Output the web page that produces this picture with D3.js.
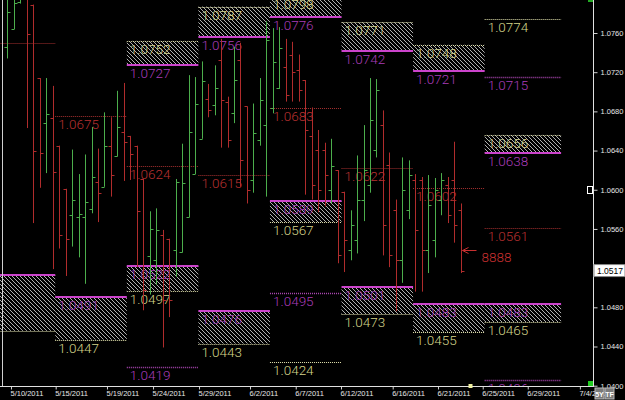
<!DOCTYPE html>
<html>
<head>
<meta charset="utf-8">
<script src="https://cdn.jsdelivr.net/npm/d3@7"></script>
<style>
  body { margin: 0; background: #000; }
  svg { display: block; background: #000; }
  .lvl { font-family: Roboto, "DejaVu Sans", sans-serif; font-size: 13.5px; font-weight: 300; }
  .axis text { font-family: "Liberation Sans", Arial, sans-serif; font-size: 7.5px; fill: #e6e6e6; }
</style>
</head>
<body>
<svg width="625" height="400"></svg>
<script>
// bars, one per session slot (index 0 = first visible bar)
const opens  = [1.0746,1.0764,1.0792,1.0796,1.0789,1.0714,1.0668,1.0673,1.0645,1.0601,
                1.0574,1.0572,1.0572,1.0580,1.0608,1.0603,1.0645,1.0634,1.0659,1.0655,
                1.0645,1.0611,1.0532,1.0528,1.0554,1.0550,1.0539,1.0536,1.0572,1.0616,
                1.0652,1.0693,1.0687,1.0732,1.0690,1.0678,1.0732,1.0685,1.0610,1.0651,
                1.0666,1.0683,1.0704,1.0725,1.0738,1.0722,1.0712,1.0655,1.0641,1.0641,
                1.0600,1.0620,1.0598,1.0539,1.0549,1.0590,1.0605,1.0641,1.0666,1.0625,
                1.0579,1.0528,1.0579,1.0610,1.0610,1.0539,1.0549,1.0590,1.0605,1.0610,
                1.0579];
const highs  = [1.0799,1.0802,1.0804,1.0797,1.0789,1.0714,1.0714,1.0706,1.0645,1.0601,
                1.0641,1.0616,1.0636,1.0664,1.0642,1.0679,1.0674,1.0701,1.0709,1.0655,
                1.0645,1.0611,1.0578,1.0581,1.0559,1.0550,1.0611,1.0647,1.0717,1.0715,
                1.0731,1.0708,1.0727,1.0754,1.0695,1.0746,1.0750,1.0685,1.0688,1.0714,
                1.0772,1.0765,1.0766,1.0754,1.0751,1.0738,1.0712,1.0684,1.0661,1.0648,
                1.0652,1.0620,1.0598,1.0579,1.0635,1.0666,1.0714,1.0713,1.0681,1.0638,
                1.0590,1.0633,1.0630,1.0616,1.0613,1.0615,1.0612,1.0617,1.0613,1.0649,
                1.0586];
const lows   = [1.0734,1.0764,1.0790,1.0663,1.0566,1.0602,1.0617,1.0519,1.0540,1.0512,
                1.0542,1.0531,1.0504,1.0576,1.0567,1.0603,1.0593,1.0634,1.0609,1.0610,
                1.0521,1.0477,1.0493,1.0503,1.0439,1.0470,1.0511,1.0536,1.0572,1.0616,
                1.0652,1.0674,1.0676,1.0643,1.0643,1.0668,1.0603,1.0586,1.0597,1.0645,
                1.0593,1.0678,1.0703,1.0690,1.0690,1.0690,1.0595,1.0590,1.0577,1.0583,
                1.0586,1.0525,1.0516,1.0528,1.0535,1.0568,1.0597,1.0633,1.0533,1.0521,
                1.0476,1.0505,1.0570,1.0496,1.0496,1.0515,1.0531,1.0574,1.0566,1.0546,
                1.0515];
const closes = [1.0781,1.0791,1.0800,1.0759,1.0640,1.0638,1.0677,1.0618,1.0554,1.0550,
                1.0590,1.0575,1.0587,1.0613,1.0597,1.0645,1.0615,1.0664,1.0649,1.0636,
                1.0578,1.0498,1.0560,1.0559,1.0487,1.0487,1.0608,1.0607,1.0659,1.0688,
                1.0711,1.0681,1.0704,1.0692,1.0651,1.0712,1.0630,1.0600,1.0658,1.0692,
                1.0753,1.0730,1.0745,1.0697,1.0720,1.0702,1.0661,1.0605,1.0600,1.0615,
                1.0624,1.0533,1.0549,1.0564,1.0590,1.0620,1.0671,1.0702,1.0564,1.0533,
                1.0528,1.0600,1.0615,1.0559,1.0539,1.0584,1.0600,1.0610,1.0574,1.0564,
                1.0517];

// time axis (positions in bar slots)
const dateLabels = ["5/10/2011","5/15/2011","5/19/2011","5/24/2011","5/29/2011","6/2/2011","6/7/2011",
                    "6/12/2011","6/16/2011","6/21/2011","6/25/2011","6/29/2011","7/4/2011"];
const datePos = [0.57, 7.47, 15.39, 22.5, 29.6, 37.47, 44.53, 51.52, 59.5, 66.5, 73.4, 80.35, 88.4];
const priceTicks = [1.0400,1.0440,1.0480,1.0520,1.0560,1.0600,1.0640,1.0680,1.0720,1.0760];

// weekly levels
const weekStart   = [-10, 7.4, 18.45, 29.5, 40.55, 51.6, 62.65, 73.7];
const weekEnd     = [7.4, 18.45, 29.5, 40.55, 51.6, 62.65, 73.7, 85.5];
const pivots      = [1.0750, 1.0675, 1.0624, 1.0615, 1.0683, 1.0622, 1.0602, 1.0561];
const upperTop    = [null, null, 1.0752, 1.0787, 1.0798, 1.0771, 1.0748, 1.0656];
const upperBottom = [null, null, 1.0727, 1.0756, 1.0776, 1.0742, 1.0721, 1.0638];
const lowerTop    = [1.0513, 1.0491, 1.0522, 1.0476, 1.0589, 1.0501, 1.0483, 1.0483];
const lowerBottom = [1.0456, 1.0447, 1.0497, 1.0443, 1.0567, 1.0473, 1.0455, 1.0465];
const extraMagenta = [[2, 1.0419], [4, 1.0495], [7, 1.0715], [7, 1.0406]];
const extraYellow  = [[4, 1.0424], [7, 1.0774]];
const lastPrice = 1.0517;
const arrowPrice = 1.0539;

const GREEN = "#4cae4c", RED = "#b02c2c";
const colors = {
  mag:    {line: "#cc44cc", text: "#a83cb8", dash: null, w: 2},
  magDot: {line: "#b048b8", text: "#a83cb8", dash: "1,1", w: 1.5},
  yel:    {line: "#e6e6b0", text: "#d4d48a", dash: "1,1", w: 1},
  red:    {line: "#a83030", text: "#b83030", dash: "1,1", w: 1}
};

const svg = d3.select('svg');
const W = 593, H = 386;

const x = d3.scaleLinear().domain([0, 70]).range([7.3, 460.7]);
const y = d3.scaleLinear().domain([1.0400, 1.0760]).range([385.7, 33]);
const crisp = v => Math.round(v) + 0.5;

const defs = svg.append('defs');
defs.append('clipPath').attr('id', 'plot')
  .append('rect').attr('width', W).attr('height', H);
defs.append('pattern').attr('id', 'hatch')
  .attr('patternUnits', 'userSpaceOnUse')
  .attr('width', 4).attr('height', 4)
  .append('path')
  .attr('d', 'M-1,-1L5,5M-1,3L1,5M3,-1L5,1')
  .attr('stroke', '#b0b0b0').attr('stroke-width', 1);

const plot = svg.append('g').attr('clip-path', 'url(#plot)');

// build week table
const weeks = weekStart.map((s, i) => ({
  x0: x(s), x1: x(weekEnd[i]),
  pivot: pivots[i],
  ut: upperTop[i], ub: upperBottom[i],
  lt: lowerTop[i], lb: lowerBottom[i]
}));

// hatched boxes
const boxes = [];
weeks.forEach(w => {
  if (w.ut != null) boxes.push({x0: w.x0, x1: w.x1, top: w.ut, bot: w.ub});
  boxes.push({x0: w.x0, x1: w.x1, top: w.lt, bot: w.lb});
});
plot.append('g').selectAll('rect').data(boxes).join('rect')
  .attr('x', d => d.x0).attr('width', d => d.x1 - d.x0)
  .attr('y', d => y(d.top)).attr('height', d => y(d.bot) - y(d.top))
  .attr('fill', 'url(#hatch)');

// level lines
const levels = [];
weeks.forEach((w, i) => {
  levels.push({x0: w.x0, x1: w.x1, v: w.pivot, kind: 'red', label: i > 0});
  if (w.ut != null) {
    levels.push({x0: w.x0, x1: w.x1, v: w.ut, kind: 'yel', label: i > 0});
    levels.push({x0: w.x0, x1: w.x1, v: w.ub, kind: 'mag', label: i > 0});
  }
  levels.push({x0: w.x0, x1: w.x1, v: w.lt, kind: 'mag', label: i > 0});
  levels.push({x0: w.x0, x1: w.x1, v: w.lb, kind: 'yel', label: i > 0});
});
extraMagenta.forEach(([k, v]) => levels.push({x0: weeks[k].x0, x1: weeks[k].x1, v, kind: 'magDot', label: true}));
extraYellow.forEach(([k, v]) => levels.push({x0: weeks[k].x0, x1: weeks[k].x1, v, kind: 'yel', label: true}));

plot.append('g').selectAll('line').data(levels).join('line')
  .attr('x1', d => d.x0).attr('x2', d => d.x1)
  .attr('y1', d => colors[d.kind].w === 2 ? Math.round(y(d.v)) : crisp(y(d.v)))
  .attr('y2', d => colors[d.kind].w === 2 ? Math.round(y(d.v)) : crisp(y(d.v)))
  .attr('stroke', d => colors[d.kind].line)
  .attr('stroke-width', d => colors[d.kind].w)
  .attr('stroke-dasharray', d => colors[d.kind].dash);

plot.append('g').attr('class', 'lvl').selectAll('text').data(levels.filter(d => d.label)).join('text')
  .attr('x', d => d.x0 + 3)
  .attr('y', d => y(d.v) + 13)
  .attr('fill', d => colors[d.kind].text)
  .text(d => d.v.toFixed(4));

// OHLC bars
const bars = opens.map((o, i) => ({i, o, h: highs[i], l: lows[i], c: closes[i]}));
const bg = plot.append('g').selectAll('g').data(bars).join('g')
  .attr('stroke', d => d.c >= d.o ? GREEN : RED)
  .attr('stroke-width', 1);
bg.append('line')
  .attr('x1', d => crisp(x(d.i))).attr('x2', d => crisp(x(d.i)))
  .attr('y1', d => y(d.h)).attr('y2', d => y(d.l));
bg.append('line')
  .attr('x1', d => crisp(x(d.i)) - 3).attr('x2', d => crisp(x(d.i)))
  .attr('y1', d => crisp(y(d.o))).attr('y2', d => crisp(y(d.o)));
bg.append('line')
  .attr('x1', d => crisp(x(d.i))).attr('x2', d => crisp(x(d.i)) + 3)
  .attr('y1', d => crisp(y(d.c))).attr('y2', d => crisp(y(d.c)));

// arrow + marker text
const ax = crisp(x(70)) + 1, ay = crisp(y(arrowPrice));
plot.append('path')
  .attr('d', `M${ax},${ay}H${ax + 14}M${ax},${ay}L${ax + 6},${ay - 3}M${ax},${ay}L${ax + 6},${ay + 3}`)
  .attr('stroke', '#c83030').attr('fill', 'none');
plot.append('text').attr('class', 'lvl')
  .attr('x', ax + 19).attr('y', ay + 11.5)
  .attr('fill', '#c83030').text('8888');

// frame lines
svg.append('line').attr('x1', 2.5).attr('x2', 2.5).attr('y1', 0).attr('y2', H)
  .attr('stroke', '#d0d0d0');

// right price axis
const yAxis = d3.axisRight(y).tickValues(priceTicks).tickFormat(d3.format('.4f'))
  .tickSize(4).tickSizeOuter(0);
const ya = svg.append('g').attr('class', 'axis').attr('transform', `translate(${W + 0.5},0)`).call(yAxis);
ya.select('.domain').remove();
ya.selectAll('.tick line').attr('stroke', '#d0d0d0');
svg.append('line').attr('x1', W + 0.5).attr('x2', W + 0.5).attr('y1', 0).attr('y2', H)
  .attr('stroke', '#e0e0e0');

// bottom time axis
const xAxis = d3.axisBottom(x).tickValues(datePos).tickFormat((d, i) => dateLabels[i])
  .tickSize(3).tickSizeOuter(0);
const xa = svg.append('g').attr('class', 'axis').attr('transform', `translate(0,${H + 0.5})`).call(xAxis);
xa.select('.domain').remove();
xa.selectAll('.tick line').attr('stroke', '#d0d0d0');
xa.selectAll('.tick text').attr('text-anchor', 'start').attr('x', -1).attr('y', 4);
svg.append('line').attr('x1', 0).attr('x2', W + 1).attr('y1', H + 0.5).attr('y2', H + 0.5)
  .attr('stroke', '#e0e0e0');

// last price tag
const ly = y(lastPrice);
svg.append('rect').attr('x', W + 1).attr('y', ly - 6.5).attr('width', 31).attr('height', 12)
  .attr('fill', '#fff').attr('stroke', '#888');
svg.append('text').attr('x', W + 4).attr('y', ly + 3)
  .attr('font-family', '"Liberation Sans", Arial, sans-serif').attr('font-size', 8.5)
  .attr('fill', '#000').text(lastPrice.toFixed(4));

// cursor marker on axis
svg.append('rect').attr('x', W - 5.5).attr('y', crisp(y(1.0600)) - 4).attr('width', 5).attr('height', 7)
  .attr('fill', '#000').attr('stroke', '#fff');

// small status markers
svg.append('rect').attr('x', crisp(x(71.1))).attr('y', H - 2).attr('width', 4).attr('height', 4).attr('fill', '#f0f0a0');
svg.append('rect').attr('x', W - 5).attr('y', H - 5).attr('width', 5).attr('height', 5).attr('fill', '#22cc22');
svg.append('rect').attr('x', W - 5).attr('y', 0).attr('width', 5).attr('height', 2).attr('fill', '#22aa22');

// buttons
const btns = ['5Y', 'TF'];
const bt = svg.append('g').selectAll('g').data(btns).join('g')
  .attr('transform', (d, i) => `translate(${W + 2 + i * 10},${H + 2})`);
bt.append('rect').attr('width', 9).attr('height', 11).attr('fill', '#7a7a7a').attr('stroke', '#bbb');
bt.append('text').attr('x', 4.5).attr('y', 8.5).attr('text-anchor', 'middle')
  .attr('font-family', '"Liberation Sans", Arial, sans-serif').attr('font-size', 7).attr('font-weight', 'bold')
  .attr('fill', '#fff').text(d => d);
</script>
</body>
</html>
